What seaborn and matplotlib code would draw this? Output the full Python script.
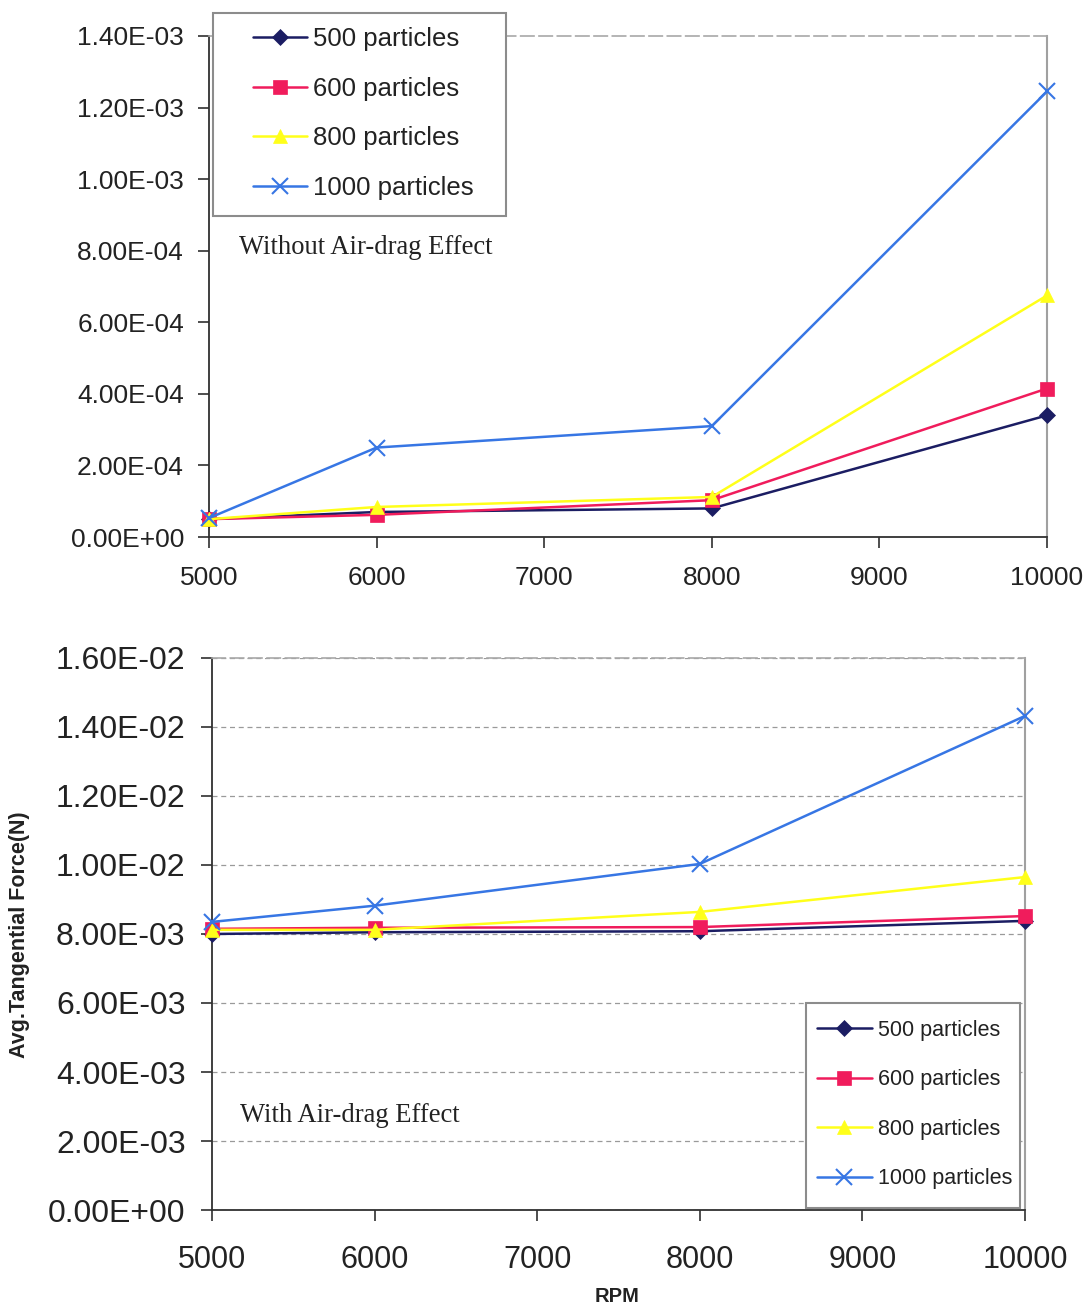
import matplotlib
matplotlib.use("Agg")
import matplotlib.pyplot as plt
from matplotlib.ticker import FuncFormatter, MultipleLocator
from matplotlib.patches import Rectangle
import seaborn as sns
import pandas as pd

rpm = [5000, 6000, 8000, 10000]
series_names = ["500 particles", "600 particles", "800 particles", "1000 particles"]

# Average tangential force (N) without air drag
no_drag_500 = [5.0e-5, 7.0e-5, 8.0e-5, 3.40e-4]
no_drag_600 = [5.0e-5, 6.2e-5, 1.03e-4, 4.15e-4]
no_drag_800 = [5.0e-5, 8.4e-5, 1.12e-4, 6.75e-4]
no_drag_1000 = [5.3e-5, 2.50e-4, 3.10e-4, 1.245e-3]

# Average tangential force (N) with air drag
drag_500 = [8.00e-3, 8.05e-3, 8.08e-3, 8.38e-3]
drag_600 = [8.15e-3, 8.18e-3, 8.20e-3, 8.52e-3]
drag_800 = [8.12e-3, 8.12e-3, 8.64e-3, 9.65e-3]
drag_1000 = [8.35e-3, 8.82e-3, 1.003e-2, 1.432e-2]

colors = {"500 particles": "#1b1d63", "600 particles": "#f01c5c",
          "800 particles": "#ffff1a", "1000 particles": "#3776e4"}
markers = {"500 particles": "D", "600 particles": "s",
           "800 particles": "^", "1000 particles": "x"}
msizes = {"500 particles": 8.5, "600 particles": 9.5,
          "800 particles": 10.5, "1000 particles": 11}


def long_frame(values):
    rows = []
    for name, vals in zip(series_names, values):
        for x, y in zip(rpm, vals):
            rows.append({"RPM": x, "Force": y, "Series": name})
    return pd.DataFrame(rows)


df_top = long_frame([no_drag_500, no_drag_600, no_drag_800, no_drag_1000])
df_bot = long_frame([drag_500, drag_600, drag_800, drag_1000])

sns.set_theme(style="white")
plt.rcParams["font.family"] = ["Liberation Sans", "DejaVu Sans"]

W, H = 1090, 1307
fig = plt.figure(figsize=(W / 100, H / 100), dpi=100)
ax1 = fig.add_axes([0.1917, 0.5891, 0.9606 - 0.1917, 0.9725 - 0.5891])
ax2 = fig.add_axes([0.1945, 0.0742, 0.9404 - 0.1945, 0.4966 - 0.0742])


def draw(ax, df):
    for name in series_names:
        sub = df[df["Series"] == name]
        sns.lineplot(data=sub, x="RPM", y="Force", ax=ax, color=colors[name],
                     marker=markers[name], markersize=msizes[name],
                     markeredgecolor=colors[name],
                     markeredgewidth=1.5 if name == "1000 particles" else 0.5,
                     linewidth=1.8, label=name, legend=False, zorder=3,
                     clip_on=False)


def sci(v, pos):
    return "{:.2E}".format(v)


draw(ax1, df_top)
draw(ax2, df_bot)

for ax in (ax1, ax2):
    ax.set_xlim(5000, 10000)
    ax.xaxis.set_major_locator(MultipleLocator(1000))
    ax.yaxis.set_major_formatter(FuncFormatter(sci))
    ax.set_xlabel("")
    ax.set_ylabel("")
    ax.set_facecolor("white")
    for side in ("left", "bottom"):
        ax.spines[side].set_color("#303030")
        ax.spines[side].set_linewidth(1.3)
    ax.spines["right"].set_color("#a0a0a0")
    ax.spines["right"].set_linewidth(1.5)
    ax.spines["top"].set_color("#a8a8a8")
    ax.spines["top"].set_linestyle((0, (8, 3)))
    ax.spines["top"].set_linewidth(1.2)
    ax.tick_params(axis="both", which="major", direction="out", length=8,
                   width=1.2, color="#303030", left=True, bottom=True)

ax1.set_ylim(0, 1.4e-3)
ax1.yaxis.set_major_locator(MultipleLocator(2e-4))
ax1.tick_params(axis="y", labelsize=19, pad=10, colors="#303030", labelcolor="#222222")
ax1.tick_params(axis="x", labelsize=19, pad=13, colors="#303030", labelcolor="#222222")

ax2.set_ylim(0, 1.6e-2)
ax2.yaxis.set_major_locator(MultipleLocator(2e-3))
ax2.tick_params(axis="y", labelsize=23, pad=11, colors="#303030", labelcolor="#222222")
ax2.tick_params(axis="x", labelsize=22, pad=17, colors="#303030", labelcolor="#222222")
ax2.yaxis.grid(True, linestyle=(0, (4, 3)), color="#9a9a9a", linewidth=0.9)
ax2.set_axisbelow(True)

serif = ["Liberation Serif", "DejaVu Serif"]
ax1.text(0.036, 0.578, "Without Air-drag Effect", transform=ax1.transAxes,
         fontsize=19.2, family=serif, color="#222222", va="center", ha="left")
ax2.text(0.034, 0.172, "With Air-drag Effect", transform=ax2.transAxes,
         fontsize=19.2, family=serif, color="#222222", va="center", ha="left")


def legend_box(x0, y0, x1, y1):
    # white box with grey border, in pixel coordinates from the top-left
    rect = Rectangle((x0 / W, 1 - y1 / H), (x1 - x0) / W, (y1 - y0) / H,
                     transform=fig.transFigure, facecolor="white",
                     edgecolor="#8c8c8c", linewidth=1.5, zorder=4)
    fig.add_artist(rect)


handles, labels = ax1.get_legend_handles_labels()
legend_box(213, 13, 506, 216)
leg1 = fig.legend(handles, labels, loc="upper left",
                  bbox_to_anchor=(253 / W, 1 - 27 / H), borderaxespad=0,
                  borderpad=0, fontsize=18.5, frameon=False,
                  handlelength=2.1, handletextpad=0.25, labelspacing=1.0)
leg1.set_zorder(5)
for t in leg1.get_texts():
    t.set_color("#222222")

handles2, labels2 = ax2.get_legend_handles_labels()
legend_box(806, 1003, 1020, 1208)
leg2 = fig.legend(handles2, labels2, loc="upper left",
                  bbox_to_anchor=(817 / W, 1 - 1020 / H), borderaxespad=0,
                  borderpad=0, fontsize=15.5, frameon=False,
                  handlelength=2.55, handletextpad=0.3, labelspacing=1.32)
leg2.set_zorder(5)
for t in leg2.get_texts():
    t.set_color("#222222")

fig.text(20 / W, 1 - 935 / H, "Avg.Tangential Force(N)", rotation=90,
         fontsize=15.5, fontweight="bold", ha="center", va="center", color="#222222")
fig.text(617 / W, 1 - 1297 / H, "RPM", fontsize=14.5, fontweight="bold",
         ha="center", va="center", color="#222222")

fig.savefig("out.png", dpi=100, facecolor="white")
